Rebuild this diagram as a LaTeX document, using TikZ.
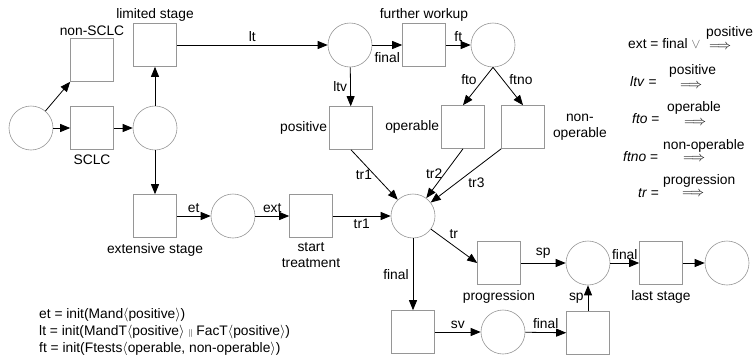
\documentclass[tikz,border=0pt]{standalone}
\usepackage{fix-cm}
\usepackage{amsmath}
\usepackage[no-math]{fontspec}
\setmainfont{Liberation Sans}
\usetikzlibrary{arrows.meta}
\definecolor{netgray}{RGB}{150,150,150}

\begin{document}
\begin{tikzpicture}[x=1pt, y=-1pt,
    font=\fontsize{13.8}{16}\selectfont,
    trans/.style={rectangle, draw=netgray, line width=0.6pt, minimum size=43pt, inner sep=0pt},
    place/.style={circle, draw=netgray, line width=0.6pt, minimum size=44pt, inner sep=0pt},
    arr/.style={-{Triangle[length=10pt, width=8pt]}, line width=0.8pt},
    tl/.style={inner sep=2pt},
    bl/.style={inner sep=5pt},
    txt/.style={anchor=base west, inner sep=0pt}]
  \useasboundingbox (0,0) rectangle (754,354);
  % places and transitions
  \node[place] (p0) at (31,128) {};
  \node[trans, label={[tl]above:non-SCLC}] (nonsclc) at (92,60) {};
  \node[trans, label={[bl]below:SCLC}] (sclc) at (92,128) {};
  \node[place] (p1) at (155,128) {};
  \node[trans, label={[tl]above:limited stage}] (limited) at (155,45) {};
  \node[trans, label={[bl]below:extensive stage}] (extensive) at (155,216) {};
  \node[place] (plt) at (350,45) {};
  \node[trans, label={[tl]left:positive}] (positive) at (351,128) {};
  \node[trans, label={[tl]above:further workup}] (workup) at (424,45) {};
  \node[place] (pft) at (493,45) {};
  \node[trans, label={[tl]left:operable}] (operable) at (463,127) {};
  \node[trans, label={[tl, align=center, xshift=6pt]right:{non-\\operable}}] (nonop) at (523,127) {};
  \node[place] (pet) at (233,216) {};
  \node[trans, label={[bl, align=center]below:{start\\treatment}}] (start) at (311,216) {};
  \node[place] (pc) at (413,216) {};
  \node[trans, label={[bl]below:progression}] (prog) at (499,263) {};
  \node[place] (psp) at (588,263) {};
  \node[trans, label={[bl]below:last stage}] (last) at (661,263) {};
  \node[place] (pend) at (727,263) {};
  \node[trans] (tfinal) at (413,332) {};
  \node[place] (psv) at (503,332) {};
  \node[trans] (tsp) at (588,333) {};
  % arcs
  \draw[arr] (p0) -- (nonsclc.south west);
  \draw[arr] (p0) -- (sclc);
  \draw[arr] (sclc) -- (p1);
  \draw[arr] (p1) -- (limited);
  \draw[arr] (p1) -- (extensive);
  \draw[arr] (limited) -- node[above, inner sep=3pt] (llt) {lt} (plt);
  \draw[arr] (plt) -- node[below, inner sep=7pt] (lfinala) {final} (workup);
  \draw[arr] (workup) -- node[above, inner sep=3pt] (lft) {ft} (pft);
  \draw[arr] (plt) -- node[left, inner sep=3pt] (lltv) {ltv} (positive);
  \draw[arr] (pft.south) -- node[above left, inner sep=1pt] (lfto) {fto} (operable.north);
  \draw[arr] (pft.south) -- node[above right, inner sep=1pt] (lftno) {ftno} (nonop.north);
  \draw[arr] (positive.south) -- node[left, inner sep=2pt] (ltra) {tr1} (pc);
  \draw[arr] (operable.south) -- node[left, inner sep=2pt] (ltrb) {tr2} (pc);
  \draw[arr] (nonop.south west) -- node[below right, inner sep=2pt] (ltrc) {tr3} (pc);
  \draw[arr] (extensive) -- node[above, inner sep=3pt] (let) {et} (pet);
  \draw[arr] (pet) -- node[above, inner sep=3pt] (lext) {ext} (start);
  \draw[arr] (start) -- node[below, inner sep=3pt] (ltrd) {tr1} (pc);
  \draw[arr] (pc) -- node[pos=0.35, above right, inner sep=2pt] (ltr) {tr} (prog.west);
  \draw[arr] (pc) -- node[left, inner sep=4pt] (lfinalb) {final} (tfinal);
  \draw[arr] (prog) -- node[above, inner sep=4pt] (lspa) {sp} (psp);
  \draw[arr] (psp) -- node[above, inner sep=3pt] (lfinalc) {final} (last);
  \draw[arr] (last) -- (pend);
  \draw[arr] (tfinal) -- node[above, inner sep=3pt] (lsv) {sv} (psv);
  \draw[arr] (psv) -- node[above, inner sep=3pt] (lfinald) {final} (tsp);
  \draw[arr] (tsp) -- node[left, inner sep=4pt] (lspb) {sp} (psp);
  % init definitions
  \node[txt] (eqet) at (39,318) {et = init(Mand$\langle$positive$\rangle$)};
  \node[txt] (eqlt) at (39,335) {lt = init(MandT$\langle$positive$\rangle$ {\footnotesize$\|$} FacT$\langle$positive$\rangle$)};
  \node[txt] (eqft) at (39,352) {ft = init(Ftests$\langle$operable, non-operable$\rangle$)};
  % arc legend
  \node[txt] (lgext) at (628,48) {ext = final {\color{black!60}$\vee$}};
  \node[txt] (arext) at (709,49) {$\Longrightarrow$};
  \node[txt] (cdext) at (706,36) {positive};
  \node[txt] (lgltv) at (630,86) {\textit{ltv} =};
  \node[txt] (arltv) at (680,88) {$\Longrightarrow$};
  \node[txt] (cdltv) at (669,74) {positive};
  \node[txt] (lgfto) at (632,123) {\textit{fto} =};
  \node[txt] (arfto) at (684,125) {$\Longrightarrow$};
  \node[txt] (cdfto) at (667,111) {operable};
  \node[txt] (lgftno) at (623,161) {\textit{ftno} =};
  \node[txt] (arftno) at (683,161) {$\Longrightarrow$};
  \node[txt] (cdftno) at (663,149) {non-operable};
  \node[txt] (lgtr) at (638,197) {\textit{tr} =};
  \node[txt] (artr) at (682,196) {$\Longrightarrow$};
  \node[txt] (cdtr) at (663,184) {progression};
\end{tikzpicture}
\end{document}
